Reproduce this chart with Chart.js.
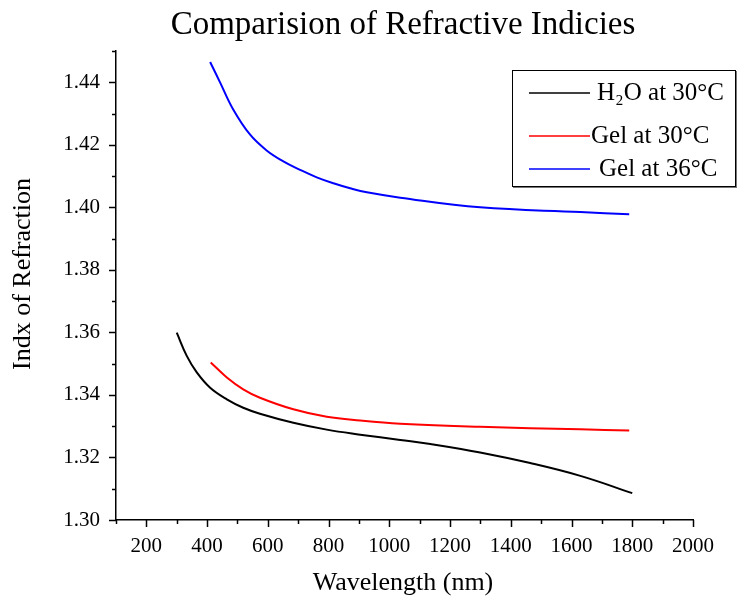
<!DOCTYPE html>
<html>
<head>
<meta charset="utf-8">
<title>Refractive index vs wavelength</title>
<script src="https://cdn.jsdelivr.net/npm/chart.js@4.4.0/dist/chart.umd.min.js"></script>
<style>
  html, body { margin: 0; padding: 0; background: #fff; }
  #wrap { width: 744px; height: 602px; }
</style>
</head>
<body>
<div id="wrap"><canvas id="myChart" width="744" height="602"></canvas></div>
<script>
// Water at 30 C
const waterWl  = [300, 333, 366, 410, 465, 519, 574, 684, 794, 904, 1036, 1135, 1299, 1464, 1629, 1800];
const waterIdx = [1.3599, 1.3525, 1.3472, 1.3423, 1.3386, 1.3359, 1.3340, 1.3311, 1.3289, 1.3273, 1.3256, 1.3243, 1.3216, 1.3182, 1.3141, 1.3086];

// Gel at 30 C
const gel30Wl  = [412, 465, 519, 574, 684, 794, 904, 1036, 1299, 1629, 1790];
const gel30Idx = [1.3504, 1.3456, 1.3418, 1.3391, 1.3354, 1.3330, 1.3318, 1.3308, 1.3298, 1.3290, 1.3286];

// Gel at 36 C
const gel36Wl  = [410, 443, 486, 541, 596, 651, 706, 761, 816, 871, 926, 1036, 1299, 1629, 1790];
const gel36Idx = [1.4465, 1.4399, 1.4313, 1.4233, 1.4182, 1.4147, 1.4120, 1.4096, 1.4077, 1.4061, 1.4048, 1.4031, 1.4000, 1.3985, 1.3978];

const seriesLabels = ['H₂O at 30°C', 'Gel at 30°C', 'Gel at 36°C'];
const seriesColors = ['#000000', '#ff0000', '#0000ff'];

function toPoints(xs, ys) {
    return xs.map((x, i) => ({ x: x, y: ys[i] }));
}

const FONT = '"Liberation Serif", "DejaVu Serif", serif';

// ticks drawn by hand so minor ticks can be shorter than major ones
const axisTicks = {
    id: 'axisTicks',
    afterDraw(chart) {
        const ctx = chart.ctx;
        const xs = chart.scales.x;
        const ys = chart.scales.y;
        const area = chart.chartArea;
        ctx.save();
        ctx.strokeStyle = '#000';
        ctx.lineWidth = 1.5;
        xs.ticks.forEach(t => {
            const px = Math.round(xs.getPixelForValue(t.value)) + 0.5;
            const len = (Math.round(t.value / 100) % 2 === 0) ? 7 : 4;
            ctx.beginPath();
            ctx.moveTo(px, area.bottom);
            ctx.lineTo(px, area.bottom + len);
            ctx.stroke();
        });
        ys.ticks.forEach(t => {
            const py = Math.round(ys.getPixelForValue(t.value)) + 0.5;
            const len = (Math.round(t.value * 100) % 2 === 0) ? 7 : 4;
            ctx.beginPath();
            ctx.moveTo(area.left, py);
            ctx.lineTo(area.left - len, py);
            ctx.stroke();
        });
        ctx.restore();
    }
};

// boxed legend sitting in the upper right of the plot
const boxLegend = {
    id: 'boxLegend',
    afterDraw(chart) {
        const ctx = chart.ctx;
        const left = 512, top = 70, w = 223, h = 116;
        ctx.save();
        ctx.fillStyle = '#fff';
        ctx.fillRect(left, top, w, h);
        ctx.strokeStyle = '#777';
        ctx.lineWidth = 2;
        ctx.beginPath();
        ctx.moveTo(left + 1, top + h + 1);
        ctx.lineTo(left + w + 1, top + h + 1);
        ctx.lineTo(left + w + 1, top + 1);
        ctx.stroke();
        ctx.strokeStyle = '#000';
        ctx.lineWidth = 1;
        ctx.strokeRect(left + 0.5, top + 0.5, w, h);

        const rows = [93, 136, 169];
        const textX = [597, 591, 599];
        ctx.font = '25px ' + FONT;
        ctx.textBaseline = 'middle';
        ctx.fillStyle = '#000';
        chart.data.datasets.forEach((ds, i) => {
            ctx.strokeStyle = ds.borderColor;
            ctx.lineWidth = 1.5;
            ctx.beginPath();
            ctx.moveTo(529, rows[i]);
            ctx.lineTo(590, rows[i]);
            ctx.stroke();
            ctx.fillText(ds.label, textX[i], rows[i]);
        });
        ctx.restore();
    }
};

// chart title and both axis titles
const titles = {
    id: 'titles',
    afterDraw(chart) {
        const c = chart.ctx;
        c.save();
        c.fillStyle = '#000';
        c.textAlign = 'center';
        c.textBaseline = 'middle';
        c.font = '33px ' + FONT;
        c.fillText('Comparision of Refractive Indicies', 403, 25);
        c.font = '26px ' + FONT;
        c.fillText('Wavelength (nm)', 403, 583);
        c.translate(23, 274);
        c.rotate(-Math.PI / 2);
        c.fillText('Indx of Refraction', 0, 0);
        c.restore();
    }
};

const ctx = document.getElementById('myChart').getContext('2d');
const myChart = new Chart(ctx, {
    type: 'line',
    data: {
        datasets: [
            { label: seriesLabels[0], data: toPoints(waterWl, waterIdx) },
            { label: seriesLabels[1], data: toPoints(gel30Wl, gel30Idx) },
            { label: seriesLabels[2], data: toPoints(gel36Wl, gel36Idx) }
        ].map((d, i) => Object.assign(d, {
            borderColor: seriesColors[i],
            backgroundColor: seriesColors[i],
            borderWidth: 2,
            pointRadius: 0,
            fill: false,
            tension: 0.4
        }))
    },
    options: {
        responsive: false,
        animation: false,
        layout: { padding: { top: 51, right: 51, left: 0, bottom: 0 } },
        plugins: {
            legend: { display: false },
            tooltip: { enabled: false },
            title: { display: false }
        },
        scales: {
            x: {
                type: 'linear',
                min: 100,
                max: 2000,
                afterFit(scale) { scale.height = 82; },
                ticks: {
                    stepSize: 100,
                    autoSkip: false,
                    maxRotation: 0,
                    padding: 14,
                    color: '#000',
                    font: { family: FONT, size: 21 },
                    callback: v => (Math.round(v / 100) % 2 === 0) ? String(v) : ''
                },
                grid: { display: false, drawTicks: false },
                border: { display: true, color: '#000', width: 1.5 }
            },
            y: {
                type: 'linear',
                min: 1.30,
                max: 1.45,
                afterFit(scale) { scale.width = 116; },
                ticks: {
                    stepSize: 0.01,
                    autoSkip: false,
                    padding: 16,
                    color: '#000',
                    font: { family: FONT, size: 21 },
                    callback: v => (Math.round(v * 100) % 2 === 0) ? v.toFixed(2) : ''
                },
                grid: { display: false, drawTicks: false },
                border: { display: true, color: '#000', width: 1.5 }
            }
        }
    },
    plugins: [axisTicks, boxLegend, titles]
});
</script>
</body>
</html>
